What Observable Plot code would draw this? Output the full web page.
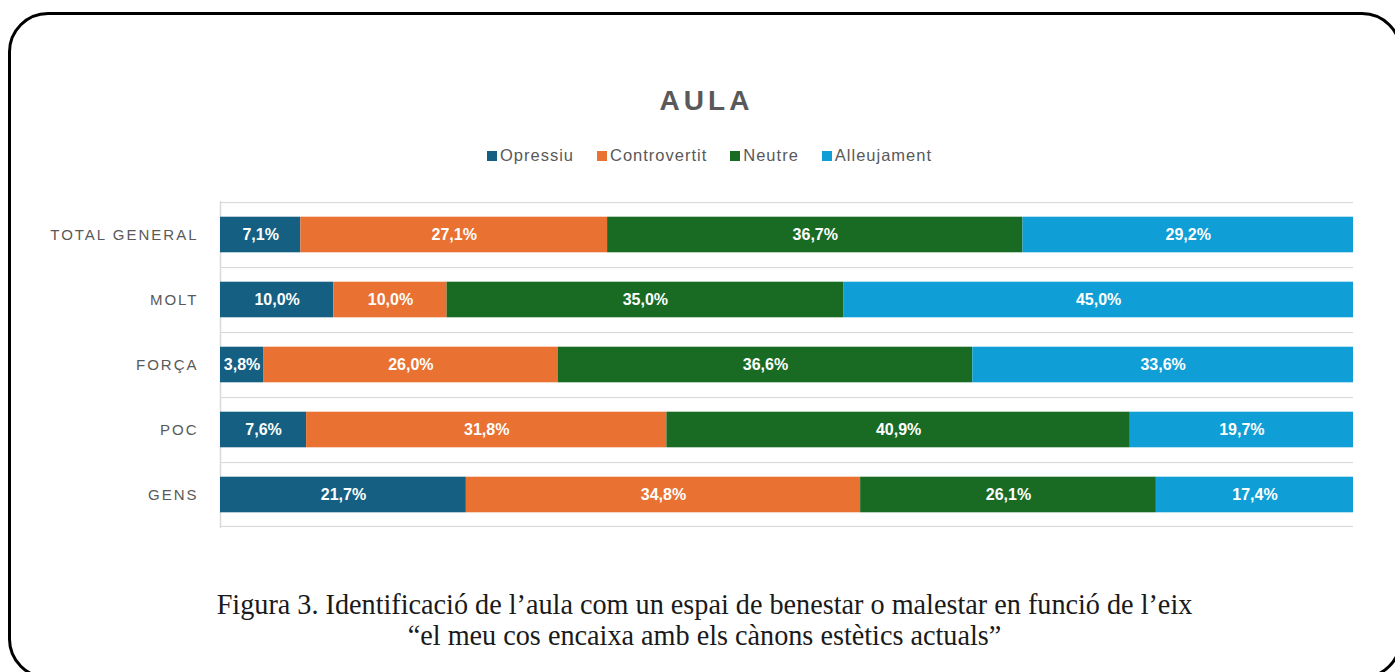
<!DOCTYPE html>
<html>
<head>
<meta charset="utf-8">
<script src="https://cdn.jsdelivr.net/npm/d3@7"></script>
<script src="https://cdn.jsdelivr.net/npm/@observablehq/plot@0.6"></script>
<style>
  html, body { margin: 0; padding: 0; background: #fff; }
  body { width: 1395px; height: 672px; position: relative; overflow: hidden; font-family: "Liberation Sans", Arial, sans-serif; }
  #frame { position: absolute; left: 8px; top: 12px; width: 1394px; height: 667px; border: 3px solid #000; border-radius: 40px; box-sizing: border-box; }
  #title { position: absolute; left: 0; width: 1395px; top: 85px; text-align: center; font-weight: bold; font-size: 28px; letter-spacing: 4px; color: #595959; padding-left: 18px; box-sizing: border-box; }
  #legend { position: absolute; left: 0; width: 1395px; top: 146px; display: flex; justify-content: center; gap: 23px; font-size: 16.5px; color: #595959; letter-spacing: 1px; padding-left: 24px; box-sizing: border-box; }
  #legend .item { display: flex; align-items: center; }
  #legend .sw { width: 10px; height: 10px; margin-right: 3px; }
  #chart { position: absolute; left: 0; top: 180px; }
  #chart g[aria-label="y-axis tick label"] text { letter-spacing: 2px; }
  #caption { position: absolute; left: 0; width: 1395px; top: 588px; text-align: center; font-family: "Liberation Serif", "Times New Roman", serif; font-size: 30px; line-height: 31px; color: #1a1a1a; padding-left: 14px; box-sizing: border-box; }
  #caption div { transform: scaleX(0.94); transform-origin: center; white-space: nowrap; }
</style>
</head>
<body>
<div id="frame"></div>
<div id="title">AULA</div>
<div id="legend"></div>
<div id="chart"></div>
<div id="caption"></div>
<script>
// ---- data ----
const categories = ["TOTAL GENERAL", "MOLT", "FORÇA", "POC", "GENS"];
const series = ["Opressiu", "Controvertit", "Neutre", "Alleujament"];
const opressiu     = [7.1, 10.0, 3.8, 7.6, 21.7];
const controvertit = [27.1, 10.0, 26.0, 31.8, 34.8];
const neutre       = [36.7, 35.0, 36.6, 40.9, 26.1];
const alleujament  = [29.2, 45.0, 33.6, 19.7, 17.4];
const colors = ["#156082", "#e97132", "#196b24", "#0f9ed5"];
const titleText = "AULA";
const captionLines = [
  "Figura 3. Identificació de l’aula com un espai de benestar o malestar en funció de l’eix",
  "“el meu cos encaixa amb els cànons estètics actuals”"
];

const seriesValues = [opressiu, controvertit, neutre, alleujament];
const data = [];
series.forEach((s, si) => {
  categories.forEach((c, ci) => {
    data.push({category: c, series: s, value: seriesValues[si][ci]});
  });
});

document.getElementById("title").textContent = titleText;
const legend = document.getElementById("legend");
series.forEach((s, i) => {
  const it = document.createElement("div");
  it.className = "item";
  const sw = document.createElement("div");
  sw.className = "sw";
  sw.style.background = colors[i];
  const lb = document.createElement("span");
  lb.textContent = s;
  it.appendChild(sw); it.appendChild(lb);
  legend.appendChild(it);
});
const cap = document.getElementById("caption");
captionLines.forEach(l => { const d = document.createElement("div"); d.textContent = l; cap.appendChild(d); });

// ---- chart ----
const H = 370, mT = 21, mB = 22;
const step = (H - mT - mB) / categories.length;
const barH = 36;
const inset = (step - barH) / 2;
const fmt = v => v.toFixed(1).replace(".", ",") + "%";

const chart = Plot.plot({
  width: 1395,
  height: H,
  marginLeft: 220,
  marginRight: 42,
  marginTop: mT,
  marginBottom: mB,
  style: {fontFamily: "Liberation Sans, Arial, sans-serif", color: "#595959", background: "transparent"},
  x: {domain: [0, 1], axis: null},
  y: {domain: categories, padding: 0, label: null, axis: null},
  color: {domain: series, range: colors},
  marks: [
    Plot.barX(categories, {x1: 0, x2: 1, y: d => d, fill: "#d9d9d9", insetTop: 0, insetBottom: step - 1.5}),
    Plot.barX([categories[categories.length - 1]], {x1: 0, x2: 1, y: d => d, fill: "#d9d9d9", insetTop: step - 1.5, insetBottom: 0}),
    Plot.ruleX([0], {stroke: "#d9d9d9", strokeWidth: 1.5}),
    Plot.barX(data, Plot.stackX({x: "value", y: "category", z: "series", fill: "series", offset: "normalize", insetTop: inset, insetBottom: inset})),
    Plot.text(data, Plot.stackX({x: "value", y: "category", z: "series", offset: "normalize", text: d => fmt(d.value), fill: "white", fontWeight: "bold", fontSize: 16})),
    Plot.axisY({tickSize: 0, tickPadding: 22, fontSize: 15, label: null})
  ]
});
document.getElementById("chart").appendChild(chart);
</script>
</body>
</html>
